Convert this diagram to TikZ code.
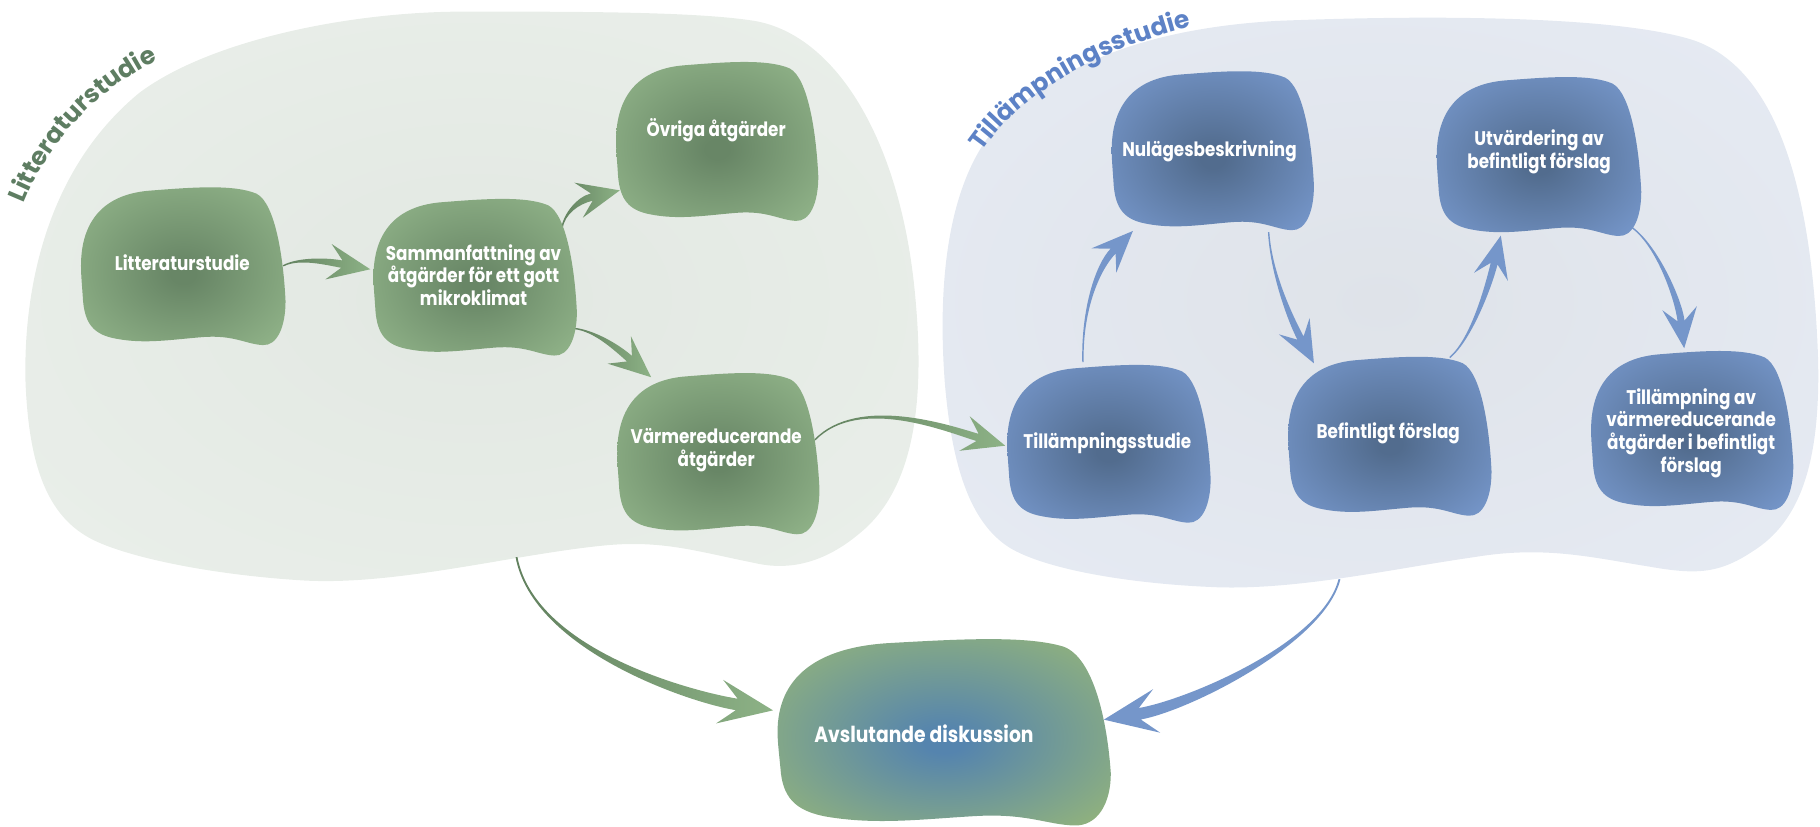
\documentclass[tikz,border=0pt]{standalone}
\usepackage{fontspec}
\setmainfont{Poppins}
\newfontfamily\nodefam[FakeStretch=0.85]{Poppins}
\newfontfamily\titlefam{Poppins}
\usetikzlibrary{calc,decorations.text}

% palette
\definecolor{gnodeC}{HTML}{688666}
\definecolor{gnodeE}{HTML}{92B58A}
\definecolor{bnodeC}{HTML}{526C8E}
\definecolor{bnodeE}{HTML}{7697CB}
\definecolor{avsC}{HTML}{5584AE}
\definecolor{avsE}{HTML}{8EB07F}
\definecolor{gbgC}{HTML}{E2E8E2}
\definecolor{gbgE}{HTML}{EAEFEA}
\definecolor{bbgC}{HTML}{DFE3E9}
\definecolor{bbgE}{HTML}{E6EBF4}
\definecolor{titleG}{HTML}{5E7D62}
\definecolor{titleB}{HTML}{5D82C6}
\definecolor{arrowB}{HTML}{7596CA}
\definecolor{garrowS}{HTML}{62815F}
\definecolor{garrowD}{HTML}{557355}
\definecolor{garrowL}{HTML}{8DB286}

% radial fills
\pgfdeclareradialshading{gnodeshade}{\pgfpoint{0bp}{-3bp}}{color(0bp)=(gnodeC); color(3bp)=(gnodeC); color(34bp)=(gnodeE); color(50bp)=(gnodeE)}
\pgfdeclareradialshading{bnodeshade}{\pgfpoint{0bp}{-3bp}}{color(0bp)=(bnodeC); color(3bp)=(bnodeC); color(33bp)=(bnodeE); color(50bp)=(bnodeE)}
\pgfdeclareradialshading{avsshade}{\pgfpoint{0bp}{-3bp}}{color(0bp)=(avsC); color(3bp)=(avsC); color(31bp)=(avsE); color(50bp)=(avsE)}
\pgfdeclareradialshading{gbgshade}{\pgfpoint{0bp}{0bp}}{color(0bp)=(gbgC); color(35bp)=(gbgE); color(50bp)=(gbgE)}
\pgfdeclareradialshading{bbgshade}{\pgfpoint{0bp}{0bp}}{color(0bp)=(bbgC); color(35bp)=(bbgE); color(50bp)=(bbgE)}

% soft rounded box with a wavy lower edge; #1 shading, #2,#3 top left, #4 width, #5 height
\newcommand\blob[5]{%
  \begin{scope}[shift={(#2,#3)}, xscale=#4, yscale=#5]
    \shade[shading=#1] (0.01,0.50)
      .. controls (0.01,0.22) and (0.12,0.05) .. (0.35,0.03)
      .. controls (0.55,0.01) and (0.75,-0.01) .. (0.86,0.05)
      .. controls (0.95,0.11) and (0.99,0.45) .. (1.0,0.72)
      .. controls (1.0,0.88) and (0.96,1.0) .. (0.89,0.995)
      .. controls (0.81,0.99) and (0.75,0.93) .. (0.60,0.945)
      .. controls (0.45,0.96) and (0.32,0.99) .. (0.18,0.955)
      .. controls (0.07,0.93) and (0.03,0.86) .. (0.02,0.72)
      .. controls (0.015,0.62) and (0.01,0.56) .. cycle;
  \end{scope}}

% tapered curved arrow with swept-back barbs
% #1 style, #2 start, #3 control 1, #4 control 2, #5 barb centre, #6 tip,
% #7 half width at start, #8 half width at the head, #9 barb half spread
\newcommand\tarrow[9]{%
  \coordinate (ta-N) at ($(#6)!0.68!(#5)$);
  \coordinate (ta-S1) at ($(#2)!#7pt!90:(#3)$);
  \coordinate (ta-S2) at ($(#2)!#7pt!-90:(#3)$);
  \coordinate (ta-N1) at ($(ta-N)!#8pt!-90:(#4)$);
  \coordinate (ta-N2) at ($(ta-N)!#8pt!90:(#4)$);
  \coordinate (ta-B1) at ($(#5)!#9pt!90:(#6)$);
  \coordinate (ta-B2) at ($(#5)!#9pt!-90:(#6)$);
  \path[#1] (ta-S1)
    .. controls ($(#3)+(ta-S1)-(#2)$) and ($(#4)+(ta-N1)-(ta-N)$) .. (ta-N1)
    -- (ta-B1) -- (#6) -- (ta-B2) -- (ta-N2)
    .. controls ($(#4)+(ta-N2)-(ta-N)$) and ($(#3)+(ta-S2)-(#2)$) .. (ta-S2) -- cycle;
}

\tikzset{
  ntext/.style={text=white, align=center, inner sep=0pt,
    font=\nodefam\fontsize{17}{19.5}\selectfont\bfseries},
  garrow/.style={left color=garrowS, middle color=garrowD, right color=garrowL},
  barrow/.style={fill=arrowB},
}
\newcommand\titlefont{\titlefam\fontsize{21.5}{21.5}\selectfont\bfseries}

\begin{document}
\begin{tikzpicture}[x=1pt, y=-1pt]
\useasboundingbox (0,0) rectangle (1568,712);

% study areas
\shade[shading=gbgshade] (22,330)
  .. controls (20,260) and (35,150) .. (120,80)
  .. controls (180,35) and (300,10) .. (400,10)
  .. controls (500,10) and (600,10) .. (650,18)
  .. controls (720,30) and (775,120) .. (788,250)
  .. controls (797,340) and (790,420) .. (740,460)
  .. controls (710,485) and (680,492) .. (650,485)
  .. controls (600,475) and (570,465) .. (520,470)
  .. controls (440,478) and (340,505) .. (260,500)
  .. controls (180,495) and (110,480) .. (80,465)
  .. controls (40,445) and (25,400) .. cycle;
\shade[shading=bbgshade] (814,330)
  .. controls (808,250) and (815,170) .. (850,120)
  .. controls (900,60) and (980,25) .. (1100,18)
  .. controls (1250,12) and (1400,15) .. (1460,35)
  .. controls (1530,60) and (1560,160) .. (1566,300)
  .. controls (1570,400) and (1550,450) .. (1510,475)
  .. controls (1480,495) and (1460,495) .. (1420,488)
  .. controls (1370,480) and (1330,470) .. (1270,480)
  .. controls (1200,490) and (1120,508) .. (1050,506)
  .. controls (970,503) and (900,490) .. (870,472)
  .. controls (835,450) and (820,400) .. cycle;

% area titles
\path[decorate, decoration={text along path, text align=center, text color=titleG,
  text={|\titlefont|Litteraturstudie}}]
  (14,194) .. controls (36,124) and (85,72) .. (154,44);
\path[decorate, decoration={text along path, text align=center, text color=titleB,
  text={|\titlefont|Tillämpningsstudie}}]
  (834,150) .. controls (866,87) and (943,40) .. (1048,18);

% connector ends
\coordinate (lit-o) at (244,229);  \coordinate (sam-i) at (319,232);
\coordinate (sam-o1) at (484,197); \coordinate (ovr-i) at (534,164);
\coordinate (sam-o2) at (495,283); \coordinate (vrm-i) at (561,325);
\coordinate (vrm-o) at (702,379);  \coordinate (til-i) at (866,384);
\coordinate (lbg-o) at (445,480);  \coordinate (avs-l) at (666,612);
\coordinate (tbg-o) at (1154,499); \coordinate (avs-r) at (951,620);
\coordinate (til-o) at (933,312);  \coordinate (nul-i) at (976,199);
\coordinate (nul-o) at (1093,200); \coordinate (bef-i) at (1132,313);
\coordinate (bef-o) at (1249,308); \coordinate (utv-i) at (1293,203);
\coordinate (utv-o) at (1406,196); \coordinate (tav-i) at (1451,300);

% connectors
\tarrow{garrow}{lit-o}{257,222}{281,225}{283,225.5}{sam-i}{0.6}{3.2}{15.5}
\tarrow{garrow}{sam-o1}{486,184}{498,172.6}{498.5,172.5}{ovr-i}{0.6}{3.2}{15.5}
\tarrow{garrow}{sam-o2}{512,285}{531,299}{533.5,301.5}{vrm-i}{0.6}{3.2}{15.5}
\tarrow{garrow}{vrm-o}{740,340}{818,369.7}{831,373.5}{til-i}{0.6}{3.2}{15.5}
\tarrow{garrow}{lbg-o}{460,560}{595,600.5}{620,604.5}{avs-l}{0.8}{5}{19}
\tarrow{barrow}{tbg-o}{1140,555}{1021,608.4}{996.5,612.5}{avs-r}{0.8}{5}{19}
\tarrow{barrow}{til-o}{932,265}{946.4,229.2}{951,224.5}{nul-i}{0.6}{3}{15}
\tarrow{barrow}{nul-o}{1095,235}{1112,275.3}{1115,281}{bef-i}{0.6}{3}{15}
\tarrow{barrow}{bef-o}{1268,292}{1283,244.6}{1284.5,238.5}{utv-i}{0.6}{3}{15}
\tarrow{barrow}{utv-o}{1428,212}{1446.2,258.6}{1447,265.5}{tav-i}{0.6}{3}{15}

% boxes
\blob{gnodeshade}{68}{160}{178}{138}
\blob{gnodeshade}{320}{170}{177}{137}
\blob{gnodeshade}{529}{52}{176}{139}
\blob{gnodeshade}{530}{320}{176}{141}
\blob{bnodeshade}{866}{313}{177}{138}
\blob{bnodeshade}{956}{60}{176}{139}
\blob{bnodeshade}{1108}{306}{177}{139}
\blob{bnodeshade}{1236}{65}{178}{139}
\blob{bnodeshade}{1369}{301}{176}{139}
\blob{avsshade}{667}{549}{290}{163}

% labels
\node[ntext] (lit) at (157,226) {Litteraturstudie};
\node[ntext] (sam) at (408,237) {Sammanfattning av\\åtgärder för ett gott\\mikroklimat};
\node[ntext] (ovr) at (617,112) {Övriga åtgärder};
\node[ntext] (vrm) at (617,388) {Värmereducerande\\åtgärder};
\node[ntext] (til) at (954,382) {Tillämpningsstudie};
\node[ntext] (nul) at (1042,130) {Nulägesbeskrivning};
\node[ntext] (bef) at (1196,373) {Befintligt förslag};
\node[ntext] (utv) at (1326,131) {Utvärdering av\\befintligt förslag};
\node[ntext] (tav) at (1457,373) {Tillämpning av\\värmereducerande\\åtgärder i befintligt\\förslag};
\node[ntext, font=\nodefam\fontsize{19}{22}\selectfont\bfseries] (avs) at (796,632) {Avslutande diskussion};
\end{tikzpicture}
\end{document}
